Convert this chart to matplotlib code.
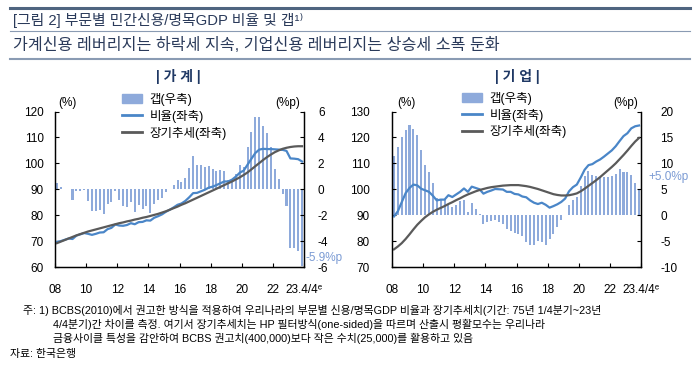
import numpy as np
import pandas as pd
import matplotlib
matplotlib.use('Agg')
import matplotlib.pyplot as plt
from matplotlib.lines import Line2D
from matplotlib.patches import Patch

plt.rcParams['font.family'] = ['Liberation Sans', 'Noto Sans CJK KR', 'DejaVu Sans']
plt.rcParams['axes.unicode_minus'] = False

quarters = pd.period_range('2008Q1', '2023Q4', freq='Q')

# 가계 (household) : gap (%p, right axis), ratio / trend (%, left axis)
hh_gap = [0.5, 0.15, 0.05, 0.05, -0.8, -0.1, -0.1, -0.05,
          -0.9, -1.7, -1.7, -1.6, -1.9, -1.1, -1.0, -0.1,
          -0.85, -1.3, -1.35, -1.0, -1.75, -1.25, -1.55, -1.3,
          -1.8, -1.1, -0.85, -0.65, -0.2, 0.05, 0.3, 0.75,
          0.55, 0.9, 1.65, 2.55, 1.9, 1.85, 1.7, 1.8,
          1.55, 1.4, 1.45, 1.4, 0.7, 0.7, 1.15, 1.85,
          1.7, 3.25, 4.4, 5.6, 5.6, 4.9, 4.35, 3.25,
          1.6, 0.8, -0.35, -1.3, -4.55, -4.55, -4.8, -5.9]
hh_ratio = [69.7, 70.0, 70.5, 71.0, 70.8, 72.1, 72.6, 73.1,
            72.8, 72.4, 72.8, 73.3, 73.4, 74.6, 75.1, 76.4,
            76.0, 75.9, 76.2, 76.9, 76.5, 77.3, 77.4, 78.0,
            77.9, 79.0, 79.6, 80.3, 81.3, 82.1, 83.0, 84.0,
            84.5, 85.5, 86.9, 88.5, 88.6, 89.2, 89.8, 90.6,
            91.0, 91.6, 92.3, 93.0, 93.0, 93.7, 94.9, 96.4,
            97.2, 99.5, 101.8, 104.0, 105.3, 105.6, 105.5, 105.5,
            105.4, 105.3, 105.2, 104.8, 101.9, 101.8, 101.6, 100.7]
hh_trend = [69.2, 69.8, 70.4, 71.0, 71.6, 72.2, 72.7, 73.2,
            73.7, 74.1, 74.5, 74.9, 75.3, 75.7, 76.1, 76.5,
            76.9, 77.2, 77.6, 77.9, 78.3, 78.6, 79.0, 79.3,
            79.7, 80.1, 80.5, 81.0, 81.5, 82.1, 82.7, 83.3,
            84.0, 84.6, 85.3, 86.0, 86.7, 87.4, 88.1, 88.8,
            89.5, 90.2, 90.9, 91.6, 92.3, 93.0, 93.8, 94.6,
            95.5, 96.5, 97.7, 98.9, 100.1, 101.3, 102.4, 103.4,
            104.3, 105.0, 105.6, 106.0, 106.3, 106.5, 106.6, 106.6]

# 기업 (corporate)
corp_gap = [11.5, 13.2, 15.0, 16.5, 17.4, 16.7, 15.5, 12.6,
            9.7, 8.4, 6.2, 3.3, 3.0, 3.1, 2.2, 1.5,
            2.0, 2.7, 2.9, 0.6, 2.4, 1.2, 0.2, -1.8,
            -1.3, -1.2, -1.0, -1.3, -1.7, -2.6, -3.0, -3.5,
            -3.6, -4.1, -5.2, -5.8, -5.8, -4.9, -5.2, -5.8,
            -4.6, -3.6, -2.3, -0.9, 0.1, 1.9, 2.9, 3.5,
            5.7, 7.6, 8.6, 7.8, 7.5, 7.4, 7.3, 7.4,
            7.6, 7.9, 8.9, 8.3, 8.4, 7.8, 6.2, 5.0]
corp_ratio = [89.5, 91.5, 95.0, 98.5, 100.5, 101.8, 101.5, 100.2,
              99.6, 99.0, 97.5, 95.7, 96.0, 96.0, 97.7, 97.0,
              98.0, 99.0, 100.3, 99.0, 101.0, 100.5, 100.0, 98.3,
              99.0, 99.5, 100.1, 100.0, 99.9, 99.0, 99.0, 98.2,
              98.0, 97.2, 96.9, 95.7, 94.8, 94.3, 94.8, 94.0,
              92.9, 93.5, 94.2, 95.1, 96.4, 99.2, 100.8, 101.8,
              104.5, 107.5, 109.3, 109.7, 110.7, 111.5, 112.6, 113.8,
              115.0, 116.6, 118.6, 120.5, 121.6, 123.5, 124.3, 124.6]
corp_trend = [76.8, 77.9, 79.2, 80.8, 82.6, 84.5, 86.3, 87.8,
              89.2, 90.3, 91.3, 92.1, 92.8, 93.5, 94.3, 95.0,
              95.8, 96.5, 97.3, 98.0, 98.6, 99.2, 99.7, 100.1,
              100.5, 100.8, 101.0, 101.2, 101.4, 101.5, 101.6, 101.6,
              101.6, 101.4, 101.2, 100.9, 100.5, 100.1, 99.6, 99.1,
              98.6, 98.1, 97.8, 97.6, 97.6, 97.7, 98.0, 98.4,
              99.2, 100.2, 101.3, 102.4, 103.5, 104.7, 106.0, 107.3,
              108.6, 110.0, 111.6, 113.2, 114.9, 116.7, 118.4, 119.8]

year_ticks = [2008, 2010, 2012, 2014, 2016, 2018, 2020, 2022, 2024]
year_labels = ['08', '10', '12', '14', '16', '18', '20', '22', '23.4/4ᵉ']
legend_labels = ['갭(우축)', '비율(좌축)', '장기추세(좌축)']

BAR_C = '#8eaadb'
RATIO_C = '#4a86c8'
TREND_C = '#5a5a5a'
NAVY = '#1f3864'

x = quarters.year + (quarters.quarter - 1) / 4 + 0.125


def fx(v):
    return v / 700


def fy(v):
    return 1 - v / 369


def draw_panel(left_px, gap, ratio, trend, ylim, rlim, rstep, lpad, rpad, leg_xy):
    ax = fig.add_axes([fx(left_px), fy(267), 249 / 700, 155.5 / 369])
    axr = ax.twinx()
    axr.bar(x, gap, width=0.13, color=BAR_C, linewidth=0)
    ax.plot(x, ratio, color=RATIO_C, lw=1.6)
    ax.plot(x, trend, color=TREND_C, lw=1.6)

    ax.set_xlim(2008, 2024)
    ax.set_xticks(year_ticks)
    ax.set_xticklabels(year_labels)
    ax.set_ylim(*ylim)
    ax.set_yticks(np.arange(ylim[0], ylim[1] + 1, 10))
    axr.set_ylim(*rlim)
    axr.set_yticks(np.arange(rlim[0], rlim[1] + 1, rstep))

    ax.tick_params(axis='y', direction='in', length=3, labelsize=8.5, pad=lpad)
    ax.tick_params(axis='x', direction='in', length=3, labelsize=8.5, pad=12)
    axr.tick_params(axis='y', direction='in', length=3, labelsize=8.5, pad=rpad)
    for a in (ax, axr):
        a.spines['top'].set_visible(False)
        for s in ('left', 'right', 'bottom'):
            a.spines[s].set_linewidth(0.9)

    ax.set_zorder(axr.get_zorder() + 1)
    ax.patch.set_visible(False)

    handles = [Patch(color=BAR_C), Line2D([], [], color=RATIO_C, lw=2),
               Line2D([], [], color=TREND_C, lw=2)]
    ax.legend(handles, legend_labels, loc='upper left',
              bbox_to_anchor=(fx(leg_xy[0]), fy(leg_xy[1])),
              bbox_transform=fig.transFigure, frameon=False, fontsize=9,
              handlelength=1.6, handletextpad=0.6, labelspacing=0.3,
              borderpad=0, borderaxespad=0)
    return ax


fig = plt.figure(figsize=(7, 3.69), dpi=100)

# header
fig.add_artist(Line2D([fx(10), fx(690)], [fy(8), fy(8)], color='#4f6580', lw=2.2))
fig.add_artist(Line2D([fx(10), fx(690)], [fy(31), fy(31)], color='#8a9bb3', lw=0.8))
fig.add_artist(Line2D([fx(10), fx(690)], [fy(58.5), fy(58.5)], color='#8a9bb3', lw=1.5))
fig.text(fx(13), fy(20), '[그림 2] 부문별 민간신용/명목GDP 비율 및 갭¹⁾', fontsize=10.7,
         color='#2a3a5a', va='center')
fig.text(fx(13), fy(45.5), '가계신용 레버리지는 하락세 지속, 기업신용 레버리지는 상승세 소폭 둔화',
         fontsize=11.6, color='#2a3a5a', va='center', weight='medium')

fig.text(fx(178), fy(76), '| 가 계 |', fontsize=10, color=NAVY, weight='bold',
         ha='center', va='center')
fig.text(fx(517), fy(76), '| 기 업 |', fontsize=10, color=NAVY, weight='bold',
         ha='center', va='center')

draw_panel(55, hh_gap, hh_ratio, hh_trend, (60, 120), (-6, 6), 2, 8, 10, (122, 93))
draw_panel(392, corp_gap, corp_ratio, corp_trend, (70, 130), (-10, 20), 5, 16, 14, (462, 92))

fig.text(fx(58), fy(103), '(%)', fontsize=8.5, va='center')
fig.text(fx(300), fy(103), '(%p)', fontsize=8.5, va='center', ha='right')
fig.text(fx(397), fy(103), '(%)', fontsize=8.5, va='center')
fig.text(fx(638), fy(103), '(%p)', fontsize=8.5, va='center', ha='right')

fig.text(fx(305), fy(258), '-5.9%p', fontsize=8.5, color='#7b9bd4', va='center')
fig.text(fx(648), fy(177), '+5.0%p', fontsize=8.5, color='#7b9bd4', va='center')

# footnote
fs = 7.85
fig.text(fx(23), fy(310), '주: 1) BCBS(2010)에서 권고한 방식을 적용하여 우리나라의 부문별 신용/명목GDP 비율과 '
         '장기추세치(기간: 75년 1/4분기~23년', fontsize=fs, va='center')
fig.text(fx(53), fy(324), '4/4분기)간 차이를 측정. 여기서 장기추세치는 HP 필터방식(one-sided)을 따르며 '
         '산출시 평활모수는 우리나라', fontsize=fs, va='center')
fig.text(fx(53), fy(338), '금융사이클 특성을 감안하여 BCBS 권고치(400,000)보다 작은 수치(25,000)를 '
         '활용하고 있음', fontsize=fs, va='center')
fig.text(fx(10), fy(354), '자료: 한국은행', fontsize=fs, va='center')

fig.savefig('out.png', dpi=100)
